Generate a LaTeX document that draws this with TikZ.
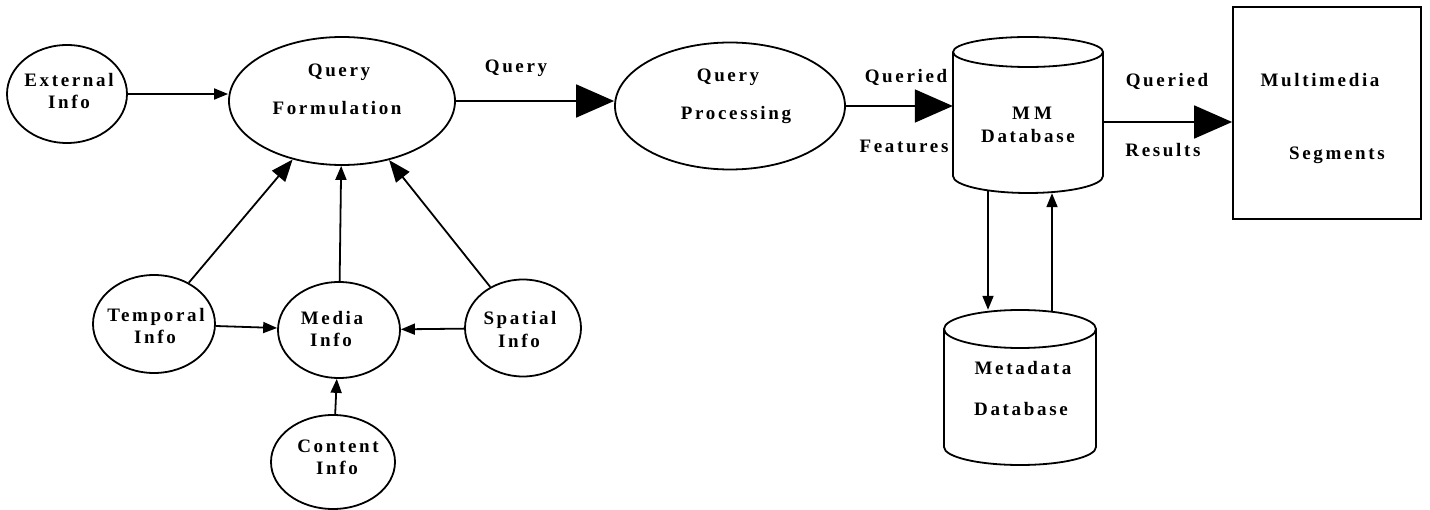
\documentclass[tikz,border=0pt]{standalone}
\usepackage{fontspec}
\setmainfont{Liberation Serif}[LetterSpace=14]
\usetikzlibrary{arrows.meta,shapes.geometric}
\begin{document}
\begin{tikzpicture}[x=1pt,y=-1pt,
  every node/.style={font=\fontsize{19}{22}\selectfont\bfseries},
  ell/.style={draw, ellipse, line width=1.8pt, inner sep=0pt},
  lbl/.style={anchor=base, inner sep=0pt},
  con/.style={line width=1.8pt},
  sm/.style={-{Triangle[length=14pt,width=11pt]}},
  md/.style={-{Triangle[length=22pt,width=17pt]}},
  bg/.style={-{Triangle[length=38pt,width=33pt]}}]
\useasboundingbox (0,0) rectangle (1430,510);

% ellipses
\node[ell, minimum width=120pt, minimum height=98pt] (ext) at (67,94) {};
\node[ell, minimum width=226pt, minimum height=128pt] (qf) at (342,101) {};
\node[ell, minimum width=230pt, minimum height=127pt] (qp) at (730,106) {};
\node[ell, minimum width=122pt, minimum height=98pt] (tmp) at (154,324) {};
\node[ell, minimum width=122pt, minimum height=96pt] (med) at (339,330) {};
\node[ell, minimum width=116pt, minimum height=97pt] (spa) at (523,328) {};
\node[ell, minimum width=124pt, minimum height=94pt] (cnt) at (333,462) {};

% rectangle
\node[draw, line width=1.8pt, minimum width=188pt, minimum height=212pt, inner sep=0pt] (mult) at (1327,113) {};

% cylinders
\node[minimum width=150pt, minimum height=158pt, inner sep=0pt] (mm) at (1028,114) {};
\draw[con] (953,52) -- (953,176) arc[start angle=180, end angle=360, x radius=75pt, y radius=17pt] -- (1103,52);
\draw[con] (1028,52) ellipse[x radius=75pt, y radius=15pt];

\node[minimum width=152pt, minimum height=156pt, inner sep=0pt] (meta) at (1020,388) {};
\draw[con] (944,329) -- (944,447) arc[start angle=180, end angle=360, x radius=76pt, y radius=18pt] -- (1096,329);
\draw[con] (1020,329) ellipse[x radius=76pt, y radius=19pt];

% labels
\node[lbl] (extT1) at (69,87) {External};
\node[lbl] (extT2) at (69,109) {Info};
\node[lbl] (qfT1) at (339,77) {Query};
\node[lbl] (qfT2) at (337,115) {Formulation};
\node[lbl] (qlab) at (516,73) {Query};
\node[lbl] (qpT1) at (728,82) {Query};
\node[lbl] (qpT2) at (736,120) {Processing};
\node[lbl] (qd1) at (906,83) {Queried};
\node[lbl] (ft) at (904,153) {Features};
\node[lbl] (mmT1) at (1032,120) {M\hspace{4pt}M};
\node[lbl] (mmT2) at (1028,143) {Database};
\node[lbl] (qd2) at (1167,87) {Queried};
\node[lbl] (res) at (1163,157) {Results};
\node[lbl] (multT1) at (1320,87) {Multimedia};
\node[lbl] (multT2) at (1337,160) {Segments};
\node[lbl] (metaT1) at (1023,375) {Metadata};
\node[lbl] (metaT2) at (1021,416) {Database};
\node[lbl] (tmpT1) at (156,322) {Temporal};
\node[lbl] (tmpT2) at (155,344) {Info};
\node[lbl] (medT1) at (332,325) {Media};
\node[lbl] (medT2) at (331,347) {Info};
\node[lbl] (cntT1) at (338,453) {Content};
\node[lbl] (cntT2) at (337,475) {Info};
\node[lbl] (spaT1) at (520,325) {Spatial};
\node[lbl] (spaT2) at (519,348) {Info};

% connectors
\draw[con,sm] (ext.east) -- (ext.east -| qf.west);
\draw[con,bg] (qf.east) -- (qf.east -| qp.west);
\draw[con,bg] (qp.east) -- (qp.east -| mm.west);
\draw[con,bg] ([yshift=-8pt]mm.east) -- ([yshift=-8pt]mm.east -| mult.west);
\draw[con,sm] ([xshift=-40pt,yshift=3pt]mm.south) -- ([xshift=-32pt]meta.north);
\draw[con,sm] ([xshift=32pt,yshift=-2pt]meta.north) -- ([xshift=24pt]mm.south);
\draw[con,md] (tmp) -- (qf);
\draw[con,sm] (med) -- (qf);
\draw[con,md] (spa) -- (qf);
\draw[con,sm] (tmp) -- (med);
\draw[con,sm] (spa) -- (med);
\draw[con,sm] (cnt) -- (med);
\end{tikzpicture}
\end{document}
